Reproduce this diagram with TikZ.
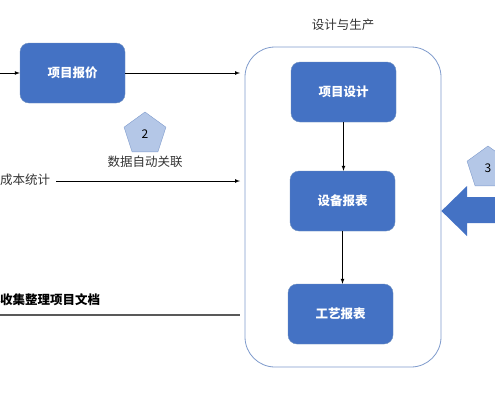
\documentclass[tikz,border=0pt]{standalone}
\usepackage{fontspec}
\setmainfont{Noto Sans CJK SC}
\usetikzlibrary{shapes.geometric}
\definecolor{boxblue}{HTML}{4472C4}
\definecolor{boxedge}{HTML}{6C8EBF}
\definecolor{tagblue}{HTML}{B4C7E7}
\definecolor{tagedge}{HTML}{7F9BCC}

\begin{document}
\begin{tikzpicture}[x=1pt,y=-1pt,
                    task/.style={draw=boxedge,fill=boxblue,rounded corners=9pt,minimum width=105pt,minimum height=60pt,text=white,font=\bfseries\fontsize{12.5}{14}\selectfont},
                    stage/.style={draw=tagedge,thick,fill=white,rounded corners=30pt,minimum width=196pt,minimum height=320pt},
                    tag/.style={regular polygon,regular polygon sides=5,draw=tagedge,fill=tagblue,minimum size=44pt,inner sep=0pt,font=\fontsize{12}{14}\selectfont},
                    label text/.style={text=black!80,font=\fontsize{12.5}{14}\selectfont},
                    flow arrow/.style={-latex, line width=0.7pt},
                   ]
  \useasboundingbox (0,0) rectangle (495,400);
  \clip (0,0) rectangle (495,400);

  \node[stage] (production) at (343, 207) {};
  \node[label text] (production-title) at (343, 25) {设计与生产};

  \node[task] (quote) at (72.5, 73) {项目报价};
  \node[task] (design) at (343.5, 92) {项目设计};
  \node[task] (equipment) at (342.5, 201) {设备报表};
  \node[task] (process) at (340.5, 314) {工艺报表};

  \node[tag] (tag-2) at (145, 134) {2};
  \node[label text] (link-note) at (145, 162) {数据自动关联};
  \node[tag] (tag-3) at (488, 168) {3};

  \node[label text,anchor=west,inner sep=0pt] (cost) at (0, 180) {成本统计};
  \node[label text,anchor=west,inner sep=0pt,font=\bfseries\fontsize{12.5}{14}\selectfont,text=black] (docs) at (0, 300) {收集整理项目文档};

  \coordinate (quote-in) at (0, 73);
  \coordinate (quote-out) at (240, 73);
  \coordinate (cost-out) at (240, 181);
  \coordinate (docs-start) at (0, 315);
  \coordinate (docs-end) at (240, 315);

  \draw[flow arrow] (quote-in) -- (quote.west);
  \draw[flow arrow] (quote.east) -- (quote-out);
  \draw[flow arrow] ([xshift=6pt]cost.east |- cost-out) -- (cost-out);
  \draw[gray!70!black, line width=1.2pt] (docs-start) -- (docs-end);

  \draw[flow arrow] (design.south) -- (design.south |- equipment.north);
  \draw[flow arrow] (equipment.south) -- (equipment.south |- process.north);

  % big block arrow pushing into the stage
  \fill[boxblue] (production.east |- 0,211) -- (467,186) -- (467,197) -- (500,197)
                 -- (500,223) -- (467,223) -- (467,236) -- cycle;
\end{tikzpicture}
\end{document}
